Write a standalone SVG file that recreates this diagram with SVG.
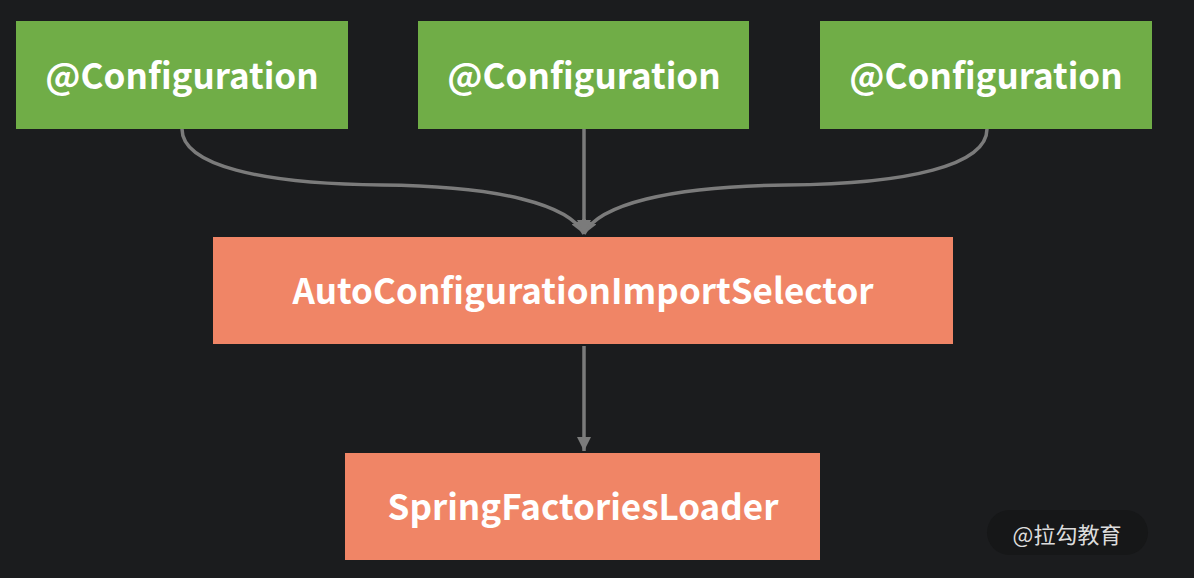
<svg xmlns="http://www.w3.org/2000/svg" width="1194" height="578" viewBox="0 0 1194 578">
<defs>
<style>
.g{fill:#70ad47}
.o{fill:#f08566}
.t{fill:#fff;font-family:"Noto Sans CJK SC","Noto Sans",sans-serif;font-weight:bold;font-size:35px;text-anchor:middle;dominant-baseline:central}
.c{fill:none;stroke:#7b7b7b;stroke-width:3.5}
</style>
<marker id="a" markerWidth="18" markerHeight="14" refX="14" refY="7" orient="auto" markerUnits="userSpaceOnUse">
<path d="M0,0 L14,7 L0,14 z" fill="#7b7b7b"/>
</marker>
</defs>
<rect width="1194" height="578" fill="#1b1c1e"/>
<g id="connectors">
<path class="c" d="M182,129 C182,165 260,184 382,185 C500,186 570,205 584,234" marker-end="url(#a)"/>
<path class="c" d="M987,129 C987,165 909,184 787,185 C669,186 598,205 584,234" marker-end="url(#a)"/>
<path class="c" d="M584,129 V234" marker-end="url(#a)"/>
<path class="c" d="M584,346 V451" marker-end="url(#a)"/>
</g>
<g id="config1"><rect class="g" x="16" y="21" width="332" height="108"/><text class="t" x="182" y="73">@Configuration</text></g>
<g id="config2"><rect class="g" x="418" y="21" width="331" height="108"/><text class="t" x="584" y="73">@Configuration</text></g>
<g id="config3"><rect class="g" x="820" y="21" width="332" height="108"/><text class="t" x="986" y="73">@Configuration</text></g>
<g id="selector"><rect class="o" x="213" y="237" width="740" height="107"/><text class="t" x="583" y="288">AutoConfigurationImportSelector</text></g>
<g id="loader"><rect class="o" x="345" y="453" width="475" height="107"/><text class="t" x="583" y="504">SpringFactoriesLoader</text></g>
<g id="watermark"><rect x="987" y="510" width="161" height="45" rx="22.5" fill="#161718"/><text x="1067" y="533" fill="#dcdcdc" font-family="'Noto Sans CJK SC',sans-serif" font-size="22" text-anchor="middle" dominant-baseline="central">@拉勾教育</text></g>
</svg>
